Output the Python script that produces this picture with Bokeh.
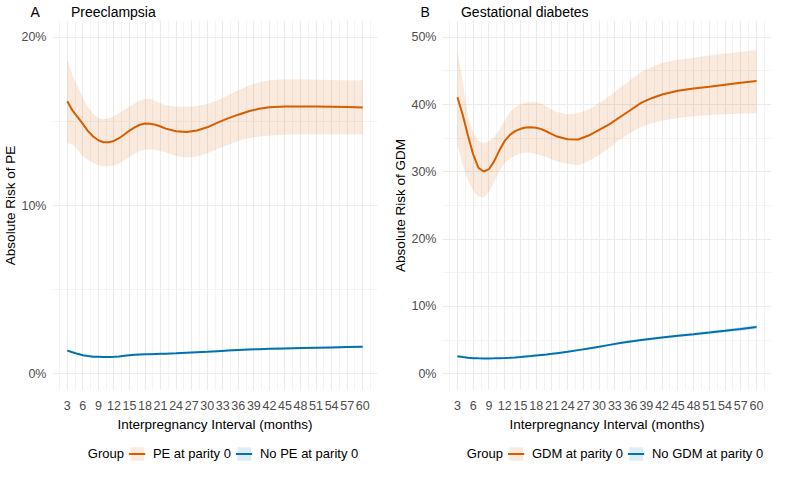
from bokeh.plotting import figure
from bokeh.layouts import column, row
from bokeh.models import FixedTicker, Legend, LegendItem
from bokeh.embed import file_html
from bokeh.resources import INLINE

FONT = "Liberation Sans"
ORANGE = "#D55E00"
BLUE = "#0072B2"

# ---------------- data ----------------
months = [3, 4, 5, 6, 7, 8, 9, 10, 11, 12, 13, 14, 15, 16, 17, 18, 19, 20, 21, 22,
          24, 26, 28, 30, 32, 34, 36, 38, 40, 42, 45, 48, 51, 54, 57, 60]

# Panel A: Preeclampsia (absolute risk, %)
pe_fit = [16.2, 15.65, 15.25, 14.85, 14.42, 14.1, 13.88, 13.76, 13.76, 13.84, 14.0, 14.22,
          14.45, 14.65, 14.8, 14.87, 14.86, 14.8, 14.7, 14.57, 14.42, 14.37, 14.46, 14.65,
          14.93, 15.18, 15.4, 15.6, 15.75, 15.84, 15.88, 15.89, 15.88, 15.87, 15.85, 15.83]
pe_hi = [18.7, 17.75, 17.1, 16.4, 15.85, 15.45, 15.2, 15.14, 15.18, 15.3, 15.5, 15.68,
         15.88, 16.08, 16.25, 16.34, 16.33, 16.22, 16.08, 15.98, 15.88, 15.87, 15.91, 16.05,
         16.25, 16.55, 16.85, 17.12, 17.33, 17.45, 17.51, 17.5, 17.48, 17.46, 17.45, 17.44]
pe_lo = [13.71, 13.62, 13.3, 12.95, 12.7, 12.52, 12.4, 12.34, 12.33, 12.36, 12.5, 12.68,
         12.88, 13.08, 13.24, 13.32, 13.33, 13.3, 13.22, 13.15, 12.95, 12.86, 12.9, 13.1,
         13.36, 13.6, 13.84, 14.0, 14.1, 14.15, 14.21, 14.23, 14.24, 14.24, 14.24, 14.24]
nope_fit = [1.37, 1.27, 1.18, 1.10, 1.05, 1.01, 1.00, 0.99, 0.99, 1.00, 1.02, 1.06, 1.10, 1.12,
            1.14, 1.15, 1.16, 1.17, 1.18, 1.19, 1.21, 1.24, 1.27, 1.30, 1.34, 1.38, 1.41, 1.44,
            1.46, 1.48, 1.50, 1.52, 1.54, 1.56, 1.58, 1.60]
nope_lo = [1.29, 1.21, 1.13, 1.06, 1.01, 0.97, 0.96, 0.95, 0.95, 0.96, 0.98, 1.02, 1.06, 1.08,
           1.10, 1.11, 1.12, 1.13, 1.14, 1.15, 1.17, 1.20, 1.23, 1.26, 1.30, 1.34, 1.37, 1.40,
           1.42, 1.44, 1.45, 1.47, 1.49, 1.50, 1.52, 1.53]
nope_hi = [1.45, 1.33, 1.23, 1.14, 1.09, 1.05, 1.04, 1.03, 1.03, 1.04, 1.06, 1.10, 1.14, 1.16,
           1.18, 1.19, 1.20, 1.21, 1.22, 1.23, 1.25, 1.28, 1.31, 1.34, 1.38, 1.42, 1.45, 1.48,
           1.50, 1.52, 1.55, 1.57, 1.59, 1.62, 1.64, 1.67]

# Panel B: Gestational diabetes (absolute risk, %)
gdm_fit = [41.1, 38.5, 35.4, 32.6, 30.6, 30.05, 30.4, 31.6, 33.2, 34.6, 35.5, 36.05, 36.4,
           36.6, 36.62, 36.55, 36.35, 36.0, 35.6, 35.25, 34.85, 34.82, 35.4, 36.25, 37.1,
           38.15, 39.2, 40.25, 40.95, 41.5, 42.05, 42.4, 42.65, 42.95, 43.25, 43.52]
gdm_hi = [48.1, 43.4, 38.3, 35.8, 34.6, 34.3, 34.6, 35.2, 36.3, 37.6, 38.9, 39.6, 40.1, 40.3,
          40.4, 40.35, 40.1, 39.7, 39.25, 38.9, 38.55, 38.7, 39.3, 40.2, 41.3, 42.5, 43.7,
          44.85, 45.6, 46.2, 46.65, 46.95, 47.3, 47.6, 47.85, 48.13]
gdm_lo = [34.0, 31.0, 28.7, 27.2, 26.3, 26.2, 27.0, 28.5, 30.2, 31.3, 32.0, 32.4, 32.75,
          32.87, 32.8, 32.65, 32.45, 32.2, 31.85, 31.55, 31.2, 31.0, 31.6, 32.5, 33.6, 34.8,
          35.8, 36.7, 37.2, 37.6, 38.0, 38.25, 38.45, 38.55, 38.65, 38.73]
nogdm_fit = [2.60, 2.47, 2.37, 2.31, 2.28, 2.27, 2.27, 2.28, 2.30, 2.33, 2.37, 2.42, 2.48,
             2.55, 2.62, 2.70, 2.78, 2.86, 2.95, 3.05, 3.25, 3.50, 3.75, 4.00, 4.28, 4.55,
             4.80, 5.00, 5.20, 5.37, 5.63, 5.87, 6.12, 6.38, 6.65, 6.94]
nogdm_lo = [2.45, 2.35, 2.27, 2.22, 2.19, 2.18, 2.18, 2.19, 2.21, 2.24, 2.28, 2.33, 2.39,
            2.46, 2.53, 2.61, 2.69, 2.77, 2.86, 2.96, 3.15, 3.39, 3.63, 3.87, 4.14, 4.40,
            4.64, 4.83, 5.02, 5.18, 5.42, 5.64, 5.87, 6.11, 6.36, 6.62]
nogdm_hi = [2.75, 2.59, 2.47, 2.40, 2.37, 2.36, 2.36, 2.37, 2.39, 2.42, 2.46, 2.51, 2.57,
            2.64, 2.71, 2.79, 2.87, 2.95, 3.04, 3.14, 3.35, 3.61, 3.87, 4.13, 4.42, 4.70,
            4.96, 5.17, 5.38, 5.56, 5.84, 6.10, 6.37, 6.65, 6.94, 7.26]

x_ticks = [3, 6, 9, 12, 15, 18, 21, 24, 27, 30, 33, 36, 39, 42, 45, 48, 51, 54, 57, 60]
x_minor = [1.5, 4.5, 7.5, 10.5, 13.5, 16.5, 19.5, 22.5, 25.5, 28.5, 31.5, 34.5, 37.5, 40.5,
           43.5, 46.5, 49.5, 52.5, 55.5, 58.5, 61.5]
ya_ticks = [0, 10, 20]
ya_minor = [5, 15]
yb_ticks = [0, 10, 20, 30, 40, 50]
yb_minor = [5, 15, 25, 35, 45]

NBSP = "\u00a0"
MAIN_H = 434
LEG_H = 28


def panel(tag, title, ylabel, yr, yt, ym, series, width, border_right):
    p = figure(output_backend="svg", toolbar_location=None,
               width=width, height=MAIN_H,
               x_range=(0.15, 62.85), y_range=yr,
               min_border_left=0, min_border_right=border_right,
               min_border_top=0, min_border_bottom=0)
    p.outline_line_color = None
    p.background_fill_color = "white"
    p.border_fill_color = "white"

    p.title.text = tag + NBSP * 8 + title
    p.title.align = "left"
    p.title.offset = -22
    p.title.text_font = FONT
    p.title.text_font_size = "14px"
    p.title.text_font_style = "normal"
    p.title.text_color = "black"
    p.title.standoff = 2

    p.xaxis.ticker = FixedTicker(ticks=x_ticks, minor_ticks=x_minor)
    p.yaxis.ticker = FixedTicker(ticks=yt, minor_ticks=ym)
    p.yaxis.major_label_overrides = {t: f"{t}%" for t in yt}
    for ax in (p.xaxis[0], p.yaxis[0]):
        ax.axis_line_color = None
        ax.major_tick_line_color = None
        ax.minor_tick_line_color = None
        ax.major_tick_out = 0
        ax.major_tick_in = 0
        ax.minor_tick_out = 0
        ax.minor_tick_in = 0
        ax.major_label_text_font = FONT
        ax.major_label_text_font_size = "12.5px"
        ax.major_label_text_color = "#4D4D4D"
        ax.axis_label_text_font = FONT
        ax.axis_label_text_font_size = "13.5px"
        ax.axis_label_text_font_style = "normal"
        ax.axis_label_text_color = "black"
    p.xaxis.axis_label = "Interpregnancy Interval (months)"
    p.yaxis.axis_label = ylabel
    p.xaxis.major_label_standoff = 10
    p.xaxis.axis_label_standoff = 4
    p.yaxis.major_label_standoff = 6
    p.yaxis.axis_label_standoff = 0

    for g in (p.xgrid[0], p.ygrid[0]):
        g.grid_line_color = "#EBEBEB"
        g.grid_line_width = 1.1
        g.minor_grid_line_color = "#EFEFEF"
        g.minor_grid_line_width = 0.7

    for name, fit, lo, hi, col in series:
        p.varea(x=months, y1=lo, y2=hi, fill_color=col, fill_alpha=0.13)
        p.line(x=months, y=fit, line_color=col, line_width=2)
    return p


def legend_fig(series, width, border_left, border_right):
    # a strip holding only the legend; its proxies use the real series but lie outside its view
    f = figure(output_backend="svg", toolbar_location=None, width=width, height=LEG_H,
               x_range=(-10, -9), y_range=(-10, -9),
               min_border_left=border_left, min_border_right=border_right,
               min_border_top=0, min_border_bottom=0)
    f.axis.visible = False
    f.grid.visible = False
    f.outline_line_color = None
    name0, fit0, lo0, hi0, col0 = series[0]
    blank = f.line(x=months, y=fit0, line_alpha=0)
    items = [LegendItem(label="Group", renderers=[blank])]
    for name, fit, lo, hi, col in series:
        band = f.varea(x=months, y1=lo, y2=hi, fill_color=col, fill_alpha=0.13)
        ln = f.line(x=months, y=fit, line_color=col, line_width=2)
        items.append(LegendItem(label=name, renderers=[band, ln]))
    leg = Legend(items=items, orientation="horizontal", location="bottom_center",
                 border_line_color=None, background_fill_alpha=0,
                 glyph_width=17, glyph_height=17, label_standoff=8, spacing=4,
                 padding=0, margin=0,
                 label_text_font=FONT, label_text_font_size="13px",
                 label_text_color="black")
    f.add_layout(leg, "center")
    return f


series_a = [("PE at parity 0", pe_fit, pe_lo, pe_hi, ORANGE),
            ("No PE at parity 0", nope_fit, nope_lo, nope_hi, BLUE)]
series_b = [("GDM at parity 0", gdm_fit, gdm_lo, gdm_hi, ORANGE),
            ("No GDM at parity 0", nogdm_fit, nogdm_lo, nogdm_hi, BLUE)]

pa = panel("A", "Preeclampsia", "Absolute Risk of PE", (-1, 21), ya_ticks, ya_minor,
           series_a, 390, 13)
pb = panel("B", "Gestational diabetes", "Absolute Risk of GDM", (-2.5, 52.5), yb_ticks, yb_minor,
           series_b, 381, 0)
la = legend_fig(series_a, 390, 44, 13)
lb = legend_fig(series_b, 381, 44, 0)

layout = column(row(pa, pb), row(la, lb))
open("out.html", "w").write(file_html(layout, INLINE))
